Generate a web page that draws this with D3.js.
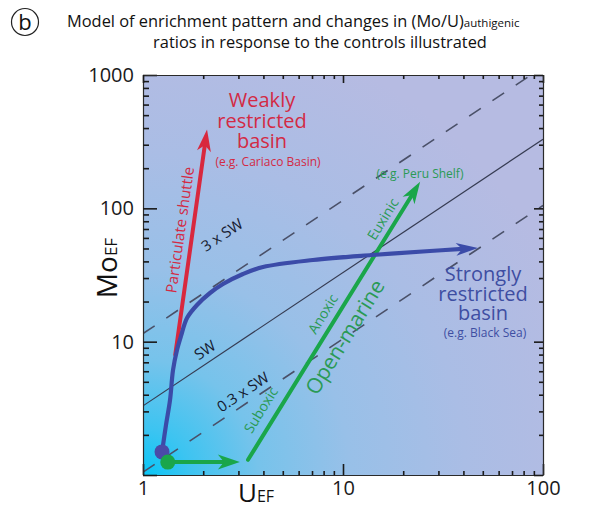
<!DOCTYPE html>
<html>
<head>
<meta charset="utf-8">
<title>Mo-U enrichment model</title>
<script src="https://d3js.org/d3.v7.min.js"></script>
<style>
body { margin: 0; background: #fff; }
text { font-family: "Open Sans", "Noto Sans", sans-serif; }
</style>
</head>
<body>
<script>
// axis labels
var xTickLabels = [1, 10, 100];
var yTickLabels = [10, 100, 1000];

// reference lines, Mo_EF = ratio * U_EF
var refNames = ["0.3 x SW", "SW", "3 x SW"];
var refRatios = [1.05, 3.3, 11.5];
var refDashed = [true, false, true];

// strongly restricted basin path (U_EF, Mo_EF)
var blueU  = [1.245, 1.303, 1.365, 1.413, 1.479, 1.549, 1.66, 1.862, 2.163, 2.512, 3.162, 3.981, 7.079, 13.96, 27.23, 47.32];
var blueMo = [1.488, 2.371, 3.65, 6.13, 8.66, 11.03, 15.05, 18.84, 23.17, 27.07, 32.18, 36.31, 40.97, 44.67, 47.86, 50.41];

// particulate shuttle (weakly restricted basin)
var redU  = [1.45, 2.09];
var redMo = [8.0, 390];

// open marine: suboxic -> anoxic -> euxinic
var greenU  = [3.35, 24.3];
var greenMo = [1.30, 158];

// short flat step from the starting point
var flatU  = [1.33, 3.05];
var flatMo = [1.25, 1.25];

// starting points
var dotU  = [1.245, 1.33];
var dotMo = [1.49, 1.25];

var width = 590, height = 509;
var plotLeft = 143, plotRight = 543, plotTop = 75, plotBottom = 475;

var x = d3.scaleLog().domain([1, 100]).range([plotLeft, plotRight]);
var y = d3.scaleLog().domain([1, 1000]).range([plotBottom, plotTop]);

var svg = d3.select("body").append("svg")
    .attr("width", width)
    .attr("height", height);

var defs = svg.append("defs");
var grad = defs.append("radialGradient")
    .attr("id", "bg")
    .attr("gradientUnits", "userSpaceOnUse")
    .attr("cx", plotLeft).attr("cy", plotBottom).attr("r", 460);
[[0, "#08c6f6"], [0.1, "#3cc4f1"], [0.25, "#76c3eb"], [0.45, "#98c0e8"], [0.7, "#aabde5"], [1, "#b6bbe2"]]
    .forEach(function(s) {
        grad.append("stop").attr("offset", s[0]).attr("stop-color", s[1]);
    });

defs.append("clipPath").attr("id", "plot")
    .append("rect")
    .attr("x", plotLeft).attr("y", plotTop)
    .attr("width", plotRight - plotLeft).attr("height", plotBottom - plotTop);

svg.append("rect")
    .attr("x", plotLeft).attr("y", plotTop)
    .attr("width", plotRight - plotLeft).attr("height", plotBottom - plotTop)
    .attr("fill", "url(#bg)");

// reference lines
var refG = svg.append("g").attr("clip-path", "url(#plot)");
refRatios.forEach(function(r, i) {
    refG.append("line")
        .attr("x1", x(1)).attr("y1", y(r * 1))
        .attr("x2", x(100)).attr("y2", y(r * 100))
        .attr("stroke", refDashed[i] ? "#4a5068" : "#363b52")
        .attr("stroke-width", refDashed[i] ? 1.6 : 1.2)
        .attr("stroke-dasharray", refDashed[i] ? "14,14" : null);
});

// ticks
function styleAxis(g) {
    g.select(".domain").attr("stroke", "#2a2a2a").attr("stroke-width", 1.2);
    g.selectAll(".tick line").attr("stroke", "#1a1a1a").attr("stroke-width", 1.6);
    g.selectAll(".tick text")
        .attr("font-family", "'Open Sans', sans-serif")
        .attr("font-size", 20)
        .attr("fill", "#1a1a1a");
}
function isMajor(d) { return Math.abs(Math.log10(d) - Math.round(Math.log10(d))) < 1e-9; }

var gx = svg.append("g").attr("transform", "translate(0," + plotBottom + ")")
    .call(d3.axisBottom(x).tickValues(x.ticks()).tickSizeInner(-4).tickSizeOuter(0).tickPadding(6)
        .tickFormat(function(d) { return xTickLabels.indexOf(d) >= 0 ? d : ""; }));
gx.selectAll(".tick line").attr("y2", function(d) { return isMajor(d) ? -11 : -4; });
styleAxis(gx);

var gy = svg.append("g").attr("transform", "translate(" + plotLeft + ",0)")
    .call(d3.axisLeft(y).tickValues(y.ticks()).tickSizeInner(-6).tickSizeOuter(0).tickPadding(9)
        .tickFormat(function(d) { return yTickLabels.indexOf(d) >= 0 ? d : ""; }));
gy.selectAll(".tick line").attr("x2", function(d) { return isMajor(d) ? 14 : 6; });
styleAxis(gy);

var gt = svg.append("g").attr("transform", "translate(0," + plotTop + ")")
    .call(d3.axisTop(x).tickValues(x.ticks()).tickSizeInner(-4).tickSizeOuter(0).tickFormat(""));
gt.selectAll(".tick line").attr("y2", function(d) { return isMajor(d) ? 8 : 4; });
styleAxis(gt);

var gr = svg.append("g").attr("transform", "translate(" + plotRight + ",0)")
    .call(d3.axisRight(y).tickValues(y.ticks()).tickSizeInner(-4).tickSizeOuter(0).tickFormat(""));
gr.selectAll(".tick line").attr("x2", function(d) { return isMajor(d) ? -9 : -4; });
styleAxis(gr);

// arrows
function arrow(us, mos, color, curved, headLen, headW, lw) {
    var pts = us.map(function(u, i) { return [x(u), y(mos[i])]; });
    var tip = pts[pts.length - 1], prev = pts[pts.length - 2];
    var dx = tip[0] - prev[0], dy = tip[1] - prev[1];
    var len = Math.sqrt(dx * dx + dy * dy);
    var ux = dx / len, uy = dy / len;
    var base = [tip[0] - ux * headLen * 0.7, tip[1] - uy * headLen * 0.7];
    var linePts = pts.slice(0, -1).concat([base]);
    svg.append("path")
        .attr("d", d3.line().curve(curved ? d3.curveCatmullRom.alpha(0.5) : d3.curveLinear)(linePts))
        .attr("fill", "none")
        .attr("stroke", color)
        .attr("stroke-width", lw)
        .attr("stroke-linecap", "round");
    var px = -uy, py = ux;
    var b = [tip[0] - ux * headLen, tip[1] - uy * headLen];
    var notch = [tip[0] - ux * headLen * 0.72, tip[1] - uy * headLen * 0.72];
    var head = [tip,
        [b[0] + px * headW / 2, b[1] + py * headW / 2],
        notch,
        [b[0] - px * headW / 2, b[1] - py * headW / 2]];
    svg.append("path")
        .attr("d", "M" + head.map(function(p) { return p.join(","); }).join("L") + "Z")
        .attr("fill", color);
}

arrow(redU, redMo, "#d8283e", false, 22, 14, 4);
arrow(greenU, greenMo, "#1aa64a", false, 22, 14, 4);
arrow(blueU, blueMo, "#3b4ba8", true, 22, 13, 4.2);
arrow(flatU, flatMo, "#1aa64a", false, 22, 15, 4);

svg.append("circle").attr("cx", x(dotU[0])).attr("cy", y(dotMo[0])).attr("r", 7.5).attr("fill", "#4a4aa8");
svg.append("circle").attr("cx", x(dotU[1])).attr("cy", y(dotMo[1])).attr("r", 7.5).attr("fill", "#1aa64a");

// annotation helper; rotated labels are centred on (px, py)
function label(txt, px, py, size, color, rot) {
    var t = svg.append("text")
        .attr("transform", "translate(" + px + "," + py + ")" + (rot ? " rotate(" + rot + ")" : ""))
        .attr("text-anchor", "middle")
        .attr("font-size", size)
        .attr("fill", color)
        .text(txt);
    if (rot) t.attr("dy", "0.35em");
    return t;
}

var slope = -Math.atan((y(1) - y(10)) / (x(10) - x(1))) * 180 / Math.PI;
label(refNames[2], 222, 235, 15, "#161a30", slope);
label(refNames[1], 205, 350, 15, "#161a30", slope);
label(refNames[0], 243, 392, 15, "#161a30", slope);

var redRot = Math.atan2(y(redMo[1]) - y(redMo[0]), x(redU[1]) - x(redU[0])) * 180 / Math.PI;
label("Particulate shuttle", 180, 230, 15, "#d32a44", redRot);

var greenRot = Math.atan2(y(greenMo[1]) - y(greenMo[0]), x(greenU[1]) - x(greenU[0])) * 180 / Math.PI;
label("Suboxic", 261, 410, 14, "#2a9a55", greenRot);
label("Anoxic", 323, 314, 14, "#2a9a55", greenRot);
label("Euxinic", 383, 219, 14, "#2a9a55", greenRot);
label("Open-marine", 345, 337, 21, "#2a9a55", greenRot);
label("(e.g. Peru Shelf)", 420, 178, 12, "#2a9a55");

label("Weakly", 262, 107, 20, "#d32a44");
label("restricted", 262, 128, 20, "#d32a44");
label("basin", 262, 148, 20, "#d32a44");
label("(e.g. Cariaco Basin)", 268, 166, 12, "#d32a44");

label("Strongly", 483, 281, 20, "#3e4ea2");
label("restricted", 483, 301, 20, "#3e4ea2");
label("basin", 483, 320, 20, "#3e4ea2");
label("(e.g. Black Sea)", 485, 337, 12, "#3e4ea2");

// axis titles
var yl = svg.append("text")
    .attr("transform", "translate(117,268) rotate(-90)")
    .attr("text-anchor", "middle")
    .attr("fill", "#111");
yl.append("tspan").attr("font-size", 28).text("Mo");
yl.append("tspan").attr("font-size", 17).text("EF");

var xl = svg.append("text")
    .attr("x", 238).attr("y", 502)
    .attr("fill", "#111");
xl.append("tspan").attr("font-size", 26).text("U");
xl.append("tspan").attr("font-size", 16).text("EF");

// panel letter and title
svg.append("circle").attr("cx", 25).attr("cy", 22).attr("r", 13.5)
    .attr("fill", "none").attr("stroke", "#222").attr("stroke-width", 1.2);
label("b", 25, 30, 22, "#111");

var t1 = svg.append("text").attr("x", 67).attr("y", 27).attr("fill", "#111");
t1.append("tspan").attr("font-size", 16.4).text("Model of enrichment pattern and changes in (Mo/U)");
t1.append("tspan").attr("font-size", 11.5).text("authigenic");
label("ratios in response to the controls illustrated", 320, 48, 16.4, "#111");
</script>
</body>
</html>
